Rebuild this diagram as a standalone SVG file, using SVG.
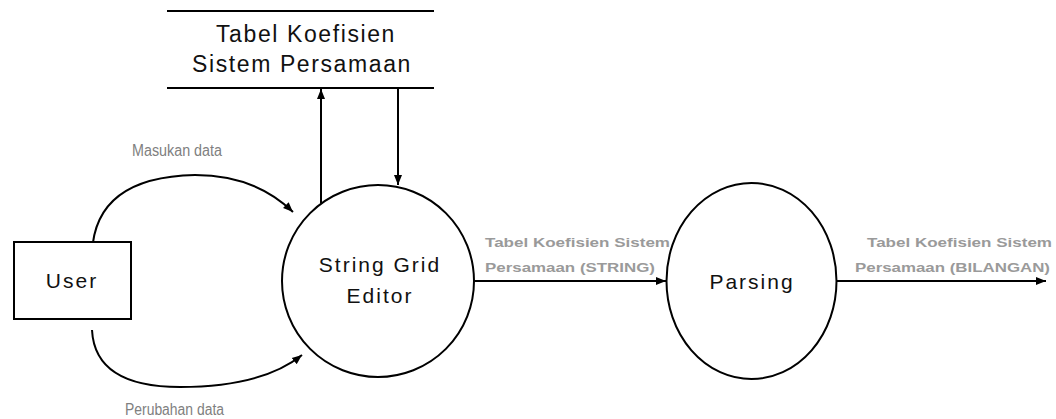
<svg xmlns="http://www.w3.org/2000/svg" width="1056" height="419" viewBox="0 0 1056 419">
<style>
.shape{fill:#fff;stroke:#000;stroke-width:2}
.line{fill:none;stroke:#000;stroke-width:2}
.lbl{font-family:"Liberation Sans",Arial,sans-serif;font-size:21px;letter-spacing:2px;fill:#111}
.ds{font-family:"Liberation Sans",Arial,sans-serif;font-size:23px;letter-spacing:1.6px;fill:#111}
.small{font-family:"Liberation Sans",Arial,sans-serif;font-size:16px;fill:#808080}
.flow{font-family:"Liberation Sans",Arial,sans-serif;font-size:13px;font-weight:bold;fill:#9a9a9a}
</style>
<defs>
<marker id="ah" viewBox="0 0 10 10" refX="10" refY="5" markerWidth="10" markerHeight="10" markerUnits="userSpaceOnUse" orient="auto">
<path d="M0,1 L10,5 L0,9 Z" fill="#000"/>
</marker>
</defs>
<rect width="1056" height="419" fill="#fff"/>
<g id="connectors">
<path class="line" d="M92,253 Q95,177 195,175 Q255,175 293,212" marker-end="url(#ah)"/>
<path class="line" d="M92,330 Q95,387 180,387 Q262,387 302,355" marker-end="url(#ah)"/>
<line class="line" x1="321" y1="203" x2="321" y2="89" marker-end="url(#ah)"/>
<line class="line" x1="398" y1="88" x2="398" y2="185" marker-end="url(#ah)"/>
<line class="line" x1="474" y1="281" x2="666" y2="281" marker-end="url(#ah)"/>
<line class="line" x1="837" y1="281" x2="1046" y2="281" marker-end="url(#ah)"/>
<text class="small" x="132" y="156" textLength="90" lengthAdjust="spacingAndGlyphs">Masukan data</text>
<text class="small" x="125" y="415" textLength="99" lengthAdjust="spacingAndGlyphs">Perubahan data</text>
<text class="flow" x="485" y="247" textLength="185" lengthAdjust="spacingAndGlyphs">Tabel Koefisien Sistem</text>
<text class="flow" x="485" y="272" textLength="170" lengthAdjust="spacingAndGlyphs">Persamaan (STRING)</text>
<text class="flow" x="867" y="247" textLength="185" lengthAdjust="spacingAndGlyphs">Tabel Koefisien Sistem</text>
<text class="flow" x="855" y="272" textLength="195" lengthAdjust="spacingAndGlyphs">Persamaan (BILANGAN)</text>
</g>
<g id="user">
<rect class="shape" x="14" y="242" width="117" height="77"/>
<text class="lbl" x="72" y="288" text-anchor="middle">User</text>
</g>
<g id="datastore">
<line class="line" x1="167" y1="11" x2="434" y2="11"/>
<line class="line" x1="167" y1="88" x2="434" y2="88"/>
<text class="ds" x="306" y="42" text-anchor="middle">Tabel Koefisien</text>
<text class="ds" x="302" y="72" text-anchor="middle">Sistem Persamaan</text>
</g>
<g id="stringgrid">
<circle class="shape" cx="378" cy="281" r="96"/>
<text class="lbl" x="380" y="272" text-anchor="middle">String Grid</text>
<text class="lbl" x="380" y="303" text-anchor="middle">Editor</text>
</g>
<g id="parsing">
<ellipse class="shape" cx="751.5" cy="281" rx="85" ry="98"/>
<text class="lbl" x="752" y="289" text-anchor="middle">Parsing</text>
</g>
</svg>
